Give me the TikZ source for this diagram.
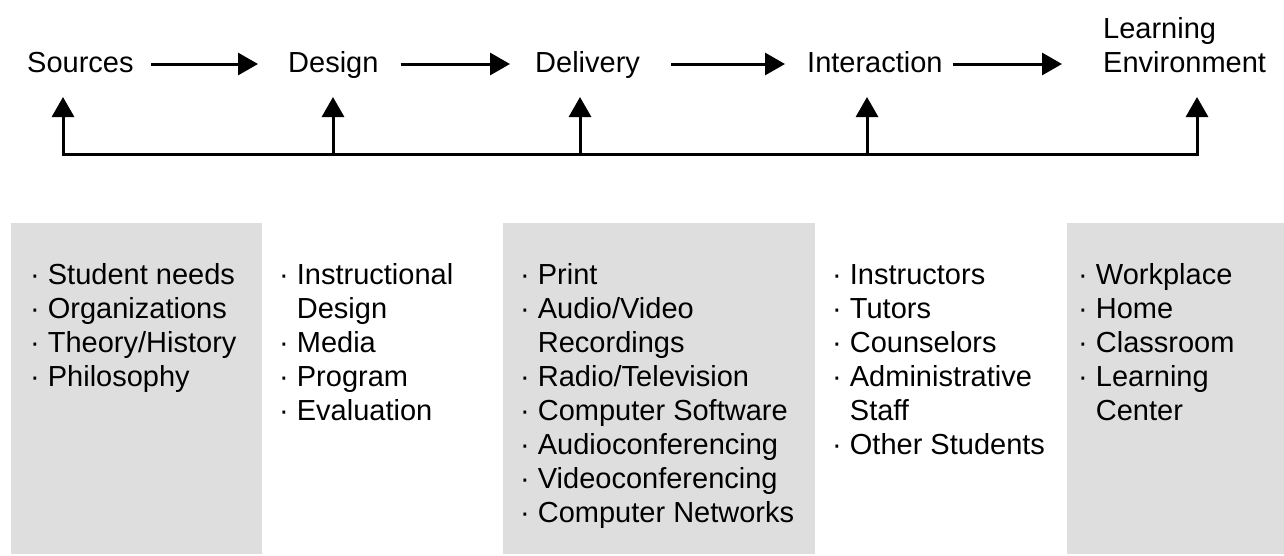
\documentclass[tikz,border=0pt]{standalone}
\usepackage{fontspec}
\setmainfont{Liberation Sans}
\usetikzlibrary{arrows.meta}
\definecolor{boxgray}{RGB}{222,222,222}
\tikzset{
  lbl/.style={inner sep=0pt, anchor=base west, text height=21pt, text depth=5pt,
    font=\fontsize{29}{34}\selectfont},
  lst/.style={inner sep=0pt, anchor=base west, font=\fontsize{29}{34}\selectfont},
  arr/.style={line width=3pt, -{Triangle[length=20pt,width=22pt]}},
  frame/.style={line width=3pt},
  panel/.style={fill=boxgray, draw=none}
}
\begin{document}
\begin{tikzpicture}[x=1pt,y=-1pt]
\useasboundingbox (0,0) rectangle (1284,555);
% grey panels
\fill[panel] (11,223) rectangle (262,554);
\fill[panel] (503,223) rectangle (815,554);
\fill[panel] (1067,223) rectangle (1284,554);
% top labels
\node[lbl] (src) at (27,72) {Sources};
\node[lbl] (des) at (288,72) {Design};
\node[lbl] (del) at (535,72) {Delivery};
\node[lbl] (int) at (807,72) {Interaction};
\node[lst] (env) at (1103,72) {\begin{tabular}[b]{@{}l@{}}Learning\\Environment\end{tabular}};
% forward arrows
\draw[arr, shorten <=17pt, shorten >=30pt] (src.east) -- (des.west);
\draw[arr, shorten <=22pt, shorten >=25pt] (des.east) -- (del.west);
\draw[arr, shorten <=31pt, shorten >=22pt] (del.east) -- (int.west);
\draw[arr, shorten <=10pt, shorten >=41pt] (int.east) -- (env.west |- int.east);
% feedback
\coordinate (t1) at (63,97);  \coordinate (b1) at (63,154);
\coordinate (t2) at (333,97); \coordinate (b2) at (333,154);
\coordinate (t3) at (580,97); \coordinate (b3) at (580,154);
\coordinate (t4) at (867,97); \coordinate (b4) at (867,154);
\coordinate (t5) at (1197,97); \coordinate (b5) at (1197,154);
\draw[frame, {Triangle[length=20pt,width=22pt]}-{Triangle[length=20pt,width=22pt]}] (t1) -- (b1) -- (b5) -- (t5);
\draw[arr] (b2) -- (t2);
\draw[arr] (b3) -- (t3);
\draw[arr] (b4) -- (t4);
% lists
\node[lst] (l1) at (30,284) {\begin{tabular}[t]{@{}l@{}}
·\ Student needs\\ ·\ Organizations\\ ·\ Theory/History\\ ·\ Philosophy\end{tabular}};
\node[lst] (l2) at (279,284) {\begin{tabular}[t]{@{}l@{}}
·\ Instructional\\ \phantom{·\ }Design\\ ·\ Media\\ ·\ Program\\ ·\ Evaluation\end{tabular}};
\node[lst] (l3) at (520,284) {\begin{tabular}[t]{@{}l@{}}
·\ Print\\ ·\ Audio/Video\\ \phantom{·\ }Recordings\\ ·\ Radio/Television\\ ·\ Computer Software\\ ·\ Audioconferencing\\ ·\ Videoconferencing\\ ·\ Computer Networks\end{tabular}};
\node[lst] (l4) at (832,284) {\begin{tabular}[t]{@{}l@{}}
·\ Instructors\\ ·\ Tutors\\ ·\ Counselors\\ ·\ Administrative\\ \phantom{·\ }Staff\\ ·\ Other Students\end{tabular}};
\node[lst] (l5) at (1078,284) {\begin{tabular}[t]{@{}l@{}}
·\ Workplace\\ ·\ Home\\ ·\ Classroom\\ ·\ Learning\\ \phantom{·\ }Center\end{tabular}};
\end{tikzpicture}
\end{document}
